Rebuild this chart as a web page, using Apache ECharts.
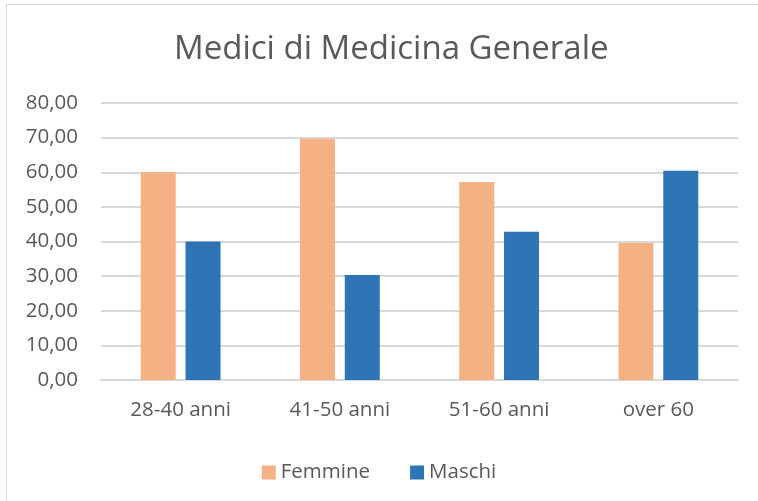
<!DOCTYPE html>
<html>
<head>
<meta charset="utf-8">
<script src="https://cdn.jsdelivr.net/npm/echarts@6/dist/echarts.min.js"></script>
<style>
  html, body { margin: 0; padding: 0; background: #fff; overflow: hidden; width: 758px; height: 501px; }
  #frame { position: absolute; left: 6px; top: 4px; width: 752px; height: 497px; border-left: 1px solid #d9d9d9; border-top: 1px solid #d9d9d9; box-sizing: border-box; }
  #chart { position: absolute; left: 0; top: 0; width: 758px; height: 501px; }
</style>
</head>
<body>
<div id="frame"></div>
<div id="chart"></div>
<script>
  // values
  let categories = ['28-40 anni', '41-50 anni', '51-60 anni', 'over 60'];
  let femmine = [60.0, 69.7, 57.2, 39.6];
  let maschi = [40.0, 30.3, 42.8, 60.4];

  let textFont = 'Open Sans';
  let grey = '#595959';

  let myChart = echarts.init(document.getElementById('chart'), null, { renderer: 'canvas' });

  let option = {
    backgroundColor: 'transparent',
    animation: false,
    title: {
      text: 'Medici di Medicina Generale',
      left: 169,
      top: 28,
      textStyle: { color: grey, fontFamily: textFont, fontSize: 33, fontWeight: 'normal' }
    },
    legend: {
      top: 457,
      left: 'center',
      itemWidth: 14,
      itemHeight: 14,
      itemGap: 40,
      icon: 'rect',
      textStyle: { color: grey, fontFamily: textFont, fontSize: 20.5 },
      data: ['Femmine', 'Maschi']
    },
    grid: { left: 101, right: 20, top: 103, bottom: 121, containLabel: false },
    xAxis: {
      type: 'category',
      data: categories,
      axisTick: { show: false },
      axisLine: { lineStyle: { color: '#d9d9d9', width: 2 } },
      axisLabel: { color: grey, fontFamily: textFont, fontSize: 20.5, margin: 20 }
    },
    yAxis: {
      type: 'value',
      min: 0,
      max: 80,
      interval: 10,
      axisLine: { show: false },
      axisTick: { show: false },
      splitLine: { lineStyle: { color: '#d9d9d9', width: 2 } },
      axisLabel: {
        color: grey, fontFamily: textFont, fontSize: 20.5, margin: 23,
        formatter: function (v) { return v.toFixed(2).replace('.', ','); }
      }
    },
    series: [
      {
        name: 'Femmine',
        type: 'bar',
        data: femmine,
        barWidth: 35,
        barGap: '28%',
        itemStyle: { color: '#f4b183' }
      },
      {
        name: 'Maschi',
        type: 'bar',
        data: maschi,
        barWidth: 35,
        itemStyle: { color: '#2e75b6' }
      }
    ]
  };

  myChart.setOption(option);
</script>
</body>
</html>
